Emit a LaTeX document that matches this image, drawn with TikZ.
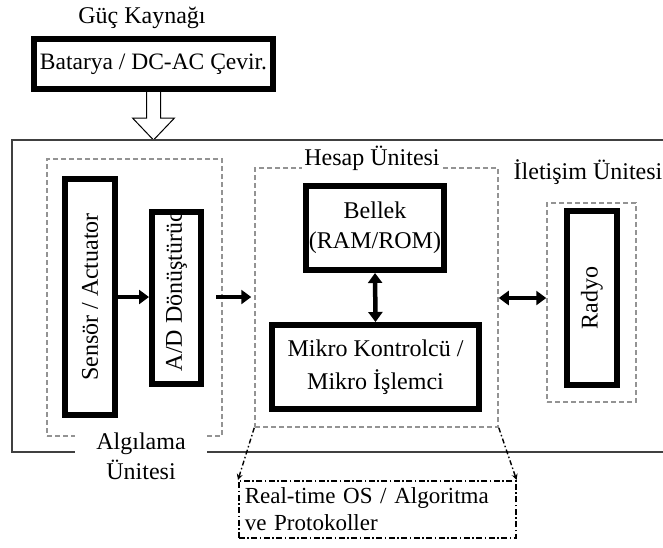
\documentclass[tikz,border=0pt]{standalone}
\usepackage{fontspec}
\setmainfont{Liberation Serif}
\usetikzlibrary{arrows.meta}
\newcommand\dgfs{\fontsize{24}{30}\selectfont}
\newcommand\dgfsm{\fontsize{24}{33}\selectfont}
\newcommand\dgfsb{\fontsize{23}{27}\selectfont}
\begin{document}
\begin{tikzpicture}[x=1pt,y=-1pt,
  thickbox/.style={draw=black, line width=6pt, inner sep=0pt, align=center, font=\dgfs},
  grpbox/.style={draw=gray!85, line width=1.5pt, dash pattern=on 5pt off 3pt, inner sep=0pt},
  lbl/.style={font=\dgfs, inner sep=1pt, align=center},
  bigarrow/.style={line width=4.5pt, -{Triangle[length=10pt,width=14pt]}},
  dblarrow/.style={line width=4.5pt, {Triangle[length=10pt,width=14pt]}-{Triangle[length=10pt,width=14pt]}},
  rtbox/.style={draw=black, line width=1.6pt, dash pattern=on 6pt off 2.5pt on 1.5pt off 2.5pt, inner sep=4pt, font=\dgfsb, align=left},
  dashdotline/.style={draw=black, line width=1.4pt, dash pattern=on 5pt off 2.5pt on 1.5pt off 2.5pt, -{Stealth[length=6pt,width=6pt]}},
  frame/.style={draw=black!75, line width=1.6pt}
]
\useasboundingbox (0,0) rectangle (663,547);

% power
\node[lbl] (guc) at (142,18) {Güç Kaynağı};
\node[thickbox, minimum width=239, minimum height=50, font=\fontsize{23.5}{30}\selectfont] (bat) at (153.5,64) {Batarya / DC-AC Çevir.};
\draw[line width=1pt, fill=white] ([xshift=-7pt]bat.south) -- ++(0,26) -- ++(-14,0) -- ([yshift=-48pt]bat.south) -- ++(21,-22) -- ++(-14,0) -- ([xshift=7pt]bat.south);

% outer frame
\draw[frame] (663,140) -- (12,140) -- (12,452) -- (663,452);

% group boxes
\node[grpbox, minimum width=175, minimum height=277] (alg) at (134.5,297.5) {};
\node[grpbox, minimum width=243, minimum height=259] (hesap) at (376.5,297.5) {};
\node[grpbox, minimum width=89, minimum height=199] (ilet) at (591.5,302.5) {};

% group labels
\node[lbl, fill=white, minimum width=132, inner sep=2pt] (alglbl) at (141,456) {Algılama\\Ünitesi};
\node[lbl, fill=white, inner sep=2pt] (heslbl) at (372,158) {Hesap Ünitesi};
\node[lbl] (iletlbl) at (588,172) {İletişim Ünitesi};

% component boxes
\node[thickbox, minimum width=50, minimum height=236] (sens) at (90,297) {};
\node[rotate=90, font=\dgfs, inner sep=0pt] (senstxt) at (sens.center) {Sensör / Actuator};
\node[thickbox, minimum width=49, minimum height=172,
  path picture={\node[rotate=90, anchor=west, font=\dgfs, inner sep=0pt] at ([yshift=10pt]path picture bounding box.south) {A/D Dönüştürücü};}] (ad) at (176.5,298) {};
\node[thickbox, minimum width=138, minimum height=84] (bellek) at (375,228) {Bellek\\(RAM/ROM)};
\node[thickbox, minimum width=207, minimum height=84, font=\dgfsm] (mikro) at (375.5,367) {Mikro Kontrolcü /\\Mikro İşlemci};
\node[thickbox, minimum width=50, minimum height=174] (radyo) at (592,298) {};
\node[rotate=90, font=\dgfs, inner sep=0pt] (radtxt) at (radyo.center) {Radyo};

\node[rtbox, minimum width=277, minimum height=57, text width=265, anchor=north west] (rt) at (238,480) {Real-time OS / Algoritma\\ve Protokoller};

% connectors
\draw[bigarrow] (sens.east |- 0,297) -- (ad.west |- 0,297);
\draw[bigarrow, shorten <=12pt, shorten >=3pt] (ad.east |- 0,297) -- (hesap.west |- 0,297);
\draw[dblarrow] (bellek.south) -- (mikro.north);
\draw[dblarrow] (hesap.east |- 0,298) -- (ilet.west |- 0,298);
\draw[dashdotline] (hesap.south west) -- (rt.north west);
\draw[dashdotline] (hesap.south east) -- (rt.north east);
\end{tikzpicture}
\end{document}
